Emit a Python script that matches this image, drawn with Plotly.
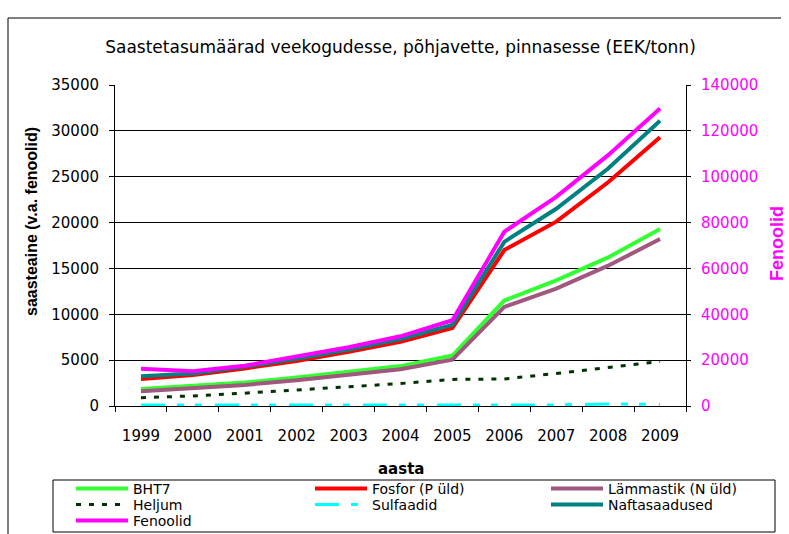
import plotly.graph_objects as go

years = ['1999', '2000', '2001', '2002', '2003', '2004', '2005', '2006', '2007', '2008', '2009']
bht7 = [1850, 2150, 2550, 3100, 3700, 4350, 5500, 11500, 13700, 16200, 19300]
fosfor = [2950, 3380, 4100, 4900, 5900, 7000, 8500, 17000, 20100, 24400, 29300]
lammastik = [1600, 1950, 2300, 2800, 3350, 4000, 5050, 10800, 12800, 15300, 18200]
heljum = [900, 1100, 1400, 1750, 2050, 2450, 2900, 2950, 3550, 4200, 4850]
sulfaadid = [100, 100, 100, 110, 110, 110, 110, 120, 120, 220, 170]
naftasaadused = [3250, 3550, 4300, 5150, 6150, 7300, 8850, 17900, 21500, 25900, 31100]
fenoolid = [16200, 15200, 17600, 21400, 25600, 30400, 37400, 76000, 91200, 109400, 129800]

W, H = 789, 534
L, R, T, B = 115, 686, 85, 406  # plot area in pixels


def px(x):
    return (x - L) / (R - L)


def py(y):
    return (B - y) / (B - T)


FONT = "DejaVu Sans"
fig = go.Figure()

# name, values, colour, width, dash, axis, legend id, legend text x, legend row y
series = [
    ("BHT7", bht7, "#33FF33", 4, "solid", "y", "legend", 133, 489),
    ("Fosfor (P üld)", fosfor, "#FF0000", 4, "solid", "y", "legend2", 372, 489),
    ("Lämmastik (N üld)", lammastik, "#A0587F", 4, "solid", "y", "legend3", 608, 489),
    ("Heljum", heljum, "#003300", 3, "5px,8px", "y", "legend4", 133, 505),
    ("Sulfaadid", sulfaadid, "#00FFFF", 3, "24px,12px,7px,11px,7px,13px", "y", "legend5", 372, 505),
    ("Naftasaadused", naftasaadused, "#008080", 4, "solid", "y", "legend6", 608, 505),
    ("Fenoolid", fenoolid, "#FF00FF", 4, "solid", "y2", "legend7", 133, 521),
]
legends = {}
for name, vals, col, w, dash, yax, leg, lx, ly in series:
    fig.add_trace(go.Scatter(
        x=years, y=vals, name=name, mode="lines", yaxis=yax, legend=leg,
        line=dict(color=col, width=w, dash=dash),
    ))
    legends[leg] = dict(x=px(lx - 62), y=py(ly), orientation="h",
                        xanchor="left", yanchor="middle", itemwidth=52,
                        font=dict(family=FONT, size=14, color="#000"),
                        bgcolor="rgba(0,0,0,0)", borderwidth=0)

fig.update_layout(
    width=W, height=H,
    margin=dict(l=L, r=W - R, t=T, b=H - B, autoexpand=False),
    paper_bgcolor="white", plot_bgcolor="white",
    title=dict(text="Saastetasumäärad veekogudesse, põhjavette, pinnasesse (EEK/tonn)",
               x=0.5, xref="paper", xanchor="center",
               y=1 - 47 / H, yref="container", yanchor="middle",
               font=dict(family=FONT, size=17, color="#000")),
    xaxis=dict(type="category", range=[-0.5, 10.5], showgrid=False,
               showline=True, linecolor="#000", linewidth=1,
               ticks="outside", ticklen=5, tickcolor="#000", tickson="boundaries",
               tickfont=dict(family=FONT, size=15, color="#000"),
               ticklabelstandoff=16, fixedrange=True),
    yaxis=dict(range=[0, 35000], dtick=5000, tickformat="d",
               showgrid=True, gridcolor="#000", gridwidth=1,
               showline=True, linecolor="#000", linewidth=1, zeroline=False,
               ticks="outside", ticklen=5, tickcolor="#000",
               tickfont=dict(family=FONT, size=15, color="#000"),
               ticklabelstandoff=7, fixedrange=True),
    yaxis2=dict(range=[0, 140000], dtick=20000, tickformat="d", overlaying="y", side="right",
                showgrid=False, showline=True, linecolor="#000", linewidth=1, zeroline=False,
                ticks="outside", ticklen=4, tickcolor="#000",
                tickfont=dict(family=FONT, size=15, color="#FF00FF"),
                ticklabelstandoff=7, fixedrange=True),
    showlegend=True,
    **legends,
)

fig.add_annotation(text="<b>saasteaine (v.a. fenoolid)</b>", textangle=-90,
                   x=px(31), y=py(222), xref="paper", yref="paper",
                   xanchor="center", yanchor="middle", showarrow=False,
                   font=dict(family="Liberation Sans", size=16, color="#000"))
fig.add_annotation(text="<b>Fenoolid</b>", textangle=-90,
                   x=px(777), y=py(244), xref="paper", yref="paper",
                   xanchor="center", yanchor="middle", showarrow=False,
                   font=dict(family="Liberation Sans", size=18, color="#FF00FF"))
fig.add_annotation(text="<b>aasta</b>",
                   x=0.5, y=py(469), xref="paper", yref="paper",
                   xanchor="center", yanchor="middle", showarrow=False,
                   font=dict(family=FONT, size=15, color="#000"))

# legend frame and outer chart frame (top and left edges visible)
fig.add_shape(type="rect", xref="paper", yref="paper",
              x0=px(53), x1=px(775), y0=py(480), y1=py(532),
              line=dict(color="#000", width=1), fillcolor="rgba(0,0,0,0)", layer="below")
fig.add_shape(type="line", xref="paper", yref="paper",
              x0=px(8), x1=px(781), y0=py(18), y1=py(18),
              line=dict(color="#000", width=1), layer="below")
fig.add_shape(type="line", xref="paper", yref="paper",
              x0=px(8), x1=px(8), y0=py(18), y1=py(560),
              line=dict(color="#000", width=1), layer="below")

fig.write_html("out.html", config={"displayModeBar": False},
               post_script="document.body.style.margin='0px';document.body.style.overflow='hidden';")
